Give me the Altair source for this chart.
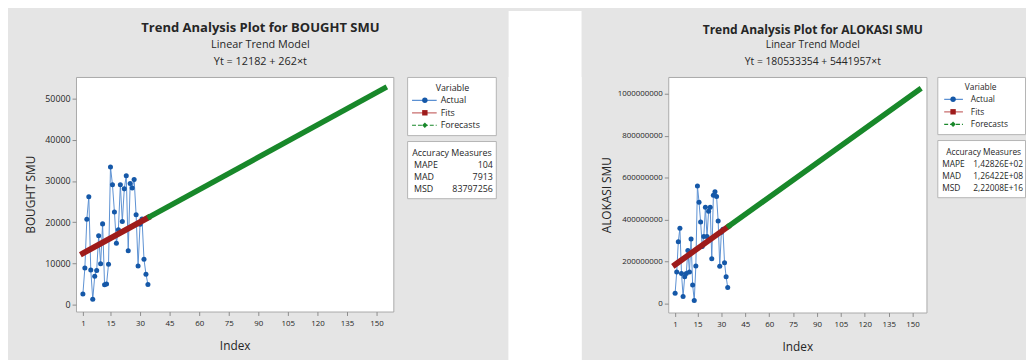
import altair as alt
import pandas as pd

FONT = "Open Sans"
BG = "#e5e5e5"
TXT = "#262626"

# ---------------- data ----------------
series_names = ["Actual", "Fits", "Forecasts"]
marker_colors = ["#1558a8", "#9e1b1b", "#18882a"]
line_colors = ["#5b90d2", "#c86d6d", "#18882a"]
marker_shapes = ["circle", "square", "diamond"]
line_dashes = [[1, 0], [1, 0], [4, 2]]

index_actual = list(range(1, 35))
fit_index = [1, 34]
forecast_index = [35, 154]
x_ticks = [1, 15, 30, 45, 60, 75, 90, 105, 120, 135, 150]

bought_actual = [2600, 8900, 20700, 26200, 8400, 1300, 6900, 8300, 16700, 9900,
                 19600, 4800, 5000, 9800, 33400, 29100, 22500, 14900, 18200, 29100,
                 20200, 28100, 31300, 13100, 29400, 28300, 30400, 21800, 9400, 19500,
                 20800, 11000, 7400, 4900]
bought_fits = [12444, 21090]
bought_forecasts = [21352, 52530]
bought_y_ticks = [0, 10000, 20000, 30000, 40000, 50000]

alokasi_actual = [50000000, 151000000, 295000000, 359000000, 144000000, 34000000,
                  128000000, 144000000, 253000000, 151000000, 308000000, 89000000,
                  15000000, 180000000, 561000000, 483000000, 389000000, 273000000,
                  320000000, 459000000, 320000000, 440000000, 459000000, 214000000,
                  516000000, 533000000, 511000000, 394000000, 178000000, 340000000,
                  355000000, 195000000, 128000000, 77000000]
alokasi_fits = [185975311, 365559892]
alokasi_forecasts = [371001849, 1018594732]
alokasi_y_ticks = [0, 200000000, 400000000, 600000000, 800000000, 1000000000]

accuracy_names = ["MAPE", "MAD", "MSD"]
bought_accuracy = ["104", "7913", "83797256"]
alokasi_accuracy = ["1,42826E+02", "1,26422E+08", "2,22008E+16"]


def box_view():
    return alt.ViewBackground(fill="white", stroke="#b4b4b4", strokeWidth=1)


def trend_plot(actual, fits, forecasts, y_title, x_domain, y_domain, y_ticks,
               w, h, ylab_size, xlab_size, y_title_pad):
    actual_df = pd.DataFrame({"Index": index_actual, "Value": actual})
    fits_df = pd.DataFrame({"Index": fit_index, "Value": fits})
    fc_df = pd.DataFrame({"Index": forecast_index, "Value": forecasts})
    x = alt.X("Index:Q", scale=alt.Scale(domain=x_domain, nice=False, zero=False),
              axis=alt.Axis(values=x_ticks, title="Index", grid=False, domain=False,
                            tickSize=4, tickColor="#8c8c8c", labelFontSize=xlab_size,
                            labelColor=TXT, labelFont=FONT, labelPadding=4,
                            titleFont=FONT, titleFontSize=12, titleFontWeight="normal",
                            titleColor=TXT, titlePadding=14))
    y = alt.Y("Value:Q", scale=alt.Scale(domain=y_domain, nice=False, zero=False),
              axis=alt.Axis(values=y_ticks, format="d", title=y_title, grid=False,
                            domain=False, tickSize=4, tickColor="#8c8c8c",
                            labelFontSize=ylab_size, labelColor=TXT, labelFont=FONT,
                            labelPadding=2, titleFont=FONT, titleFontSize=12,
                            titleFontWeight="normal", titleColor=TXT,
                            titlePadding=y_title_pad))
    a_line = alt.Chart(actual_df).mark_line(color=line_colors[0], strokeWidth=1).encode(x=x, y=y)
    a_pts = alt.Chart(actual_df).mark_point(filled=True, shape="circle", size=26,
                                            color=marker_colors[0], opacity=1).encode(x=x, y=y)
    f_line = alt.Chart(fits_df).mark_line(color=marker_colors[1], strokeWidth=5.8,
                                          strokeCap="square").encode(x=x, y=y)
    c_line = alt.Chart(fc_df).mark_line(color=marker_colors[2], strokeWidth=5.5,
                                        strokeCap="square").encode(x=x, y=y)
    return alt.layer(a_line, a_pts, f_line, c_line).properties(
        width=w, height=h,
        view=alt.ViewBackground(fill="white", stroke="#a9a9a9", strokeWidth=1))


def legend_box(w, h, x_seg0, x_seg1, x_mark, x_text, x_head, rows_range, fs):
    rows = ["Variable"] + series_names
    yenc = alt.Y("row:N", scale=alt.Scale(type="point", domain=rows, range=rows_range,
                                          padding=0), axis=None)
    items = pd.DataFrame({"row": series_names})
    head = pd.DataFrame({"row": ["Variable"]})
    stroke = alt.Stroke("row:N", scale=alt.Scale(domain=series_names, range=line_colors), legend=None)
    fill = alt.Fill("row:N", scale=alt.Scale(domain=series_names, range=marker_colors), legend=None)
    dash = alt.StrokeDash("row:N", scale=alt.Scale(domain=series_names, range=line_dashes), legend=None)
    shape = alt.Shape("row:N", scale=alt.Scale(domain=series_names, range=marker_shapes), legend=None)
    seg = alt.Chart(items).mark_rule(strokeWidth=1.2).encode(
        x=alt.value(x_seg0), x2=alt.value(x_seg1), y=yenc, stroke=stroke, strokeDash=dash)
    mk = alt.Chart(items).mark_point(filled=True, size=30, opacity=1).encode(
        x=alt.value(x_mark), y=yenc, fill=fill, shape=shape)
    txt = alt.Chart(items).mark_text(align="left", baseline="middle", font=FONT,
                                     fontSize=fs, color=TXT).encode(
        x=alt.value(x_text), y=yenc, text="row:N")
    hd = alt.Chart(head).mark_text(align="center", baseline="middle", font=FONT,
                                   fontSize=fs, color=TXT).encode(
        x=alt.value(x_head), y=yenc, text="row:N")
    return alt.layer(seg, mk, txt, hd).properties(width=w, height=h, view=box_view())


def accuracy_box(values, w, h, x_name, x_val, x_head, rows_range, fs):
    rows = ["Accuracy Measures"] + accuracy_names
    yenc = alt.Y("row:N", scale=alt.Scale(type="point", domain=rows, range=rows_range,
                                          padding=0), axis=None)
    df = pd.DataFrame({"row": accuracy_names, "value": values})
    head = pd.DataFrame({"row": ["Accuracy Measures"]})
    names = alt.Chart(df).mark_text(align="left", baseline="middle", font=FONT,
                                    fontSize=fs, color=TXT).encode(
        x=alt.value(x_name), y=yenc, text="row:N")
    vals = alt.Chart(df).mark_text(align="right", baseline="middle", font=FONT,
                                   fontSize=fs, color=TXT).encode(
        x=alt.value(x_val), y=yenc, text="value:N")
    hd = alt.Chart(head).mark_text(align="center", baseline="middle", font=FONT,
                                   fontSize=fs, color=TXT).encode(
        x=alt.value(x_head), y=yenc, text="row:N")
    return alt.layer(names, vals, hd).properties(width=w, height=h, view=box_view())


def panel(name, eq, plot, legend, acc, gap, title_size, sub_size):
    return alt.hconcat(plot, alt.vconcat(legend, acc, spacing=4), spacing=gap).properties(
        title=alt.TitleParams(
            text="Trend Analysis Plot for " + name,
            subtitle=["Linear Trend Model", eq],
            anchor="middle", frame="bounds", font=FONT, fontSize=title_size,
            fontWeight="bold", color=TXT, subtitleFont=FONT, subtitleFontSize=sub_size,
            subtitleColor=TXT, subtitlePadding=4, subtitleLineHeight=17, offset=9))


left = panel(
    "BOUGHT SMU", "Yt = 12182 + 262×t",
    trend_plot(bought_actual, bought_fits, bought_forecasts, "BOUGHT SMU",
               [-2.5, 158.5], [-1675, 55260], bought_y_ticks, 322, 238, 9, 8, 7),
    legend_box(90, 59, 5, 30, 18, 34, 46, [11, 49], 9),
    accuracy_box(bought_accuracy, 90, 58, 7, 87, 45.5, [12, 49], 9),
    10, 13.2, 11)

right = panel(
    "ALOKASI SMU", "Yt = 180533354 + 5441957×t",
    trend_plot(alokasi_actual, alokasi_fits, alokasi_forecasts, "ALOKASI SMU",
               [-3.3, 158.7], [-42000000, 1079800000], alokasi_y_ticks, 262, 239, 8, 8, 4),
    legend_box(89, 58, 7, 26, 16, 34, 44, [10, 48], 8.5),
    accuracy_box(alokasi_accuracy, 89, 58, 5, 87, 47, [12, 49], 8.5),
    6, 12.2, 10.5)

# white gap between the two screenshots
spacer = alt.Chart(pd.DataFrame({"gap": [0]})).mark_rect(color="white").encode(
    x=alt.value(0), x2=alt.value(74), y=alt.value(-67), y2=alt.value(330)).properties(
    width=74, height=330,
    view=alt.ViewBackground(fill="white", stroke="white", strokeWidth=0))

chart = alt.hconcat(alt.hconcat(left, spacer, spacing=12), right, spacing=18).properties(
    background=BG, padding={"left": 16, "top": 0, "right": 0, "bottom": 10})

chart.save("out.html", embed_options={"renderer": "svg", "actions": False})
